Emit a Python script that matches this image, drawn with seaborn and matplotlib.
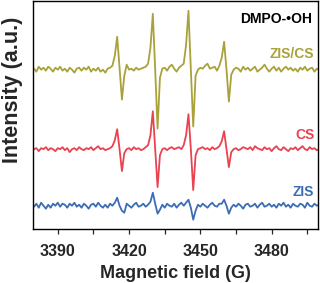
import numpy as np
import pandas as pd
import matplotlib
matplotlib.use("Agg")
import matplotlib.pyplot as plt
import seaborn as sns
from matplotlib.ticker import MultipleLocator

# ---- data (intensity in arbitrary units) ----
field = list(range(3380, 3501))  # Magnetic field (G)

zis_cs = [
    1, -2, 3, 0, 2, -1, 3, 1, -2, 2,
    0, 3, -1, 1, -2, 2, 0, -3, 1, 2,
    -1, 2, 0, 3, -2, 1, -1, 2, -2, 0,
    -3, 1, 2, 4, 14, 33, 2, -30, -6, 5,
    0, 1, -1, 2, 0, 1, 2, 3, 6, 22,
    56, 0, -59, -8, 1, 2, -1, 3, 5, 1,
    -2, 2, 4, 6, 25, 59, 0, -57, -6, 0,
    2, 1, 4, 6, 1, 2, 3, -1, 4, 12,
    28, 0, -32, -5, 0, 2, 1, -2, 3, 0,
    2, -1, 1, 3, -2, 0, 2, 5, 1, -2,
    1, 3, -1, 2, -2, 1, 3, 0, 2, -1,
    1, -2, 2, 0, 3, -1, 1, 2, -2, 1,
    0,
]

cs = [
    0, 1, -2, 1, 0, 2, -1, 1, 0, -2,
    1, 0, 2, -1, 1, -3, 0, 1, -1, 2,
    0, -1, 1, 0, 2, -1, 1, 3, 0, 1,
    -1, 0, 1, 3, 9, 20, 0, -22, -4, 0,
    1, -1, 2, 0, 1, -1, 0, 2, 4, 14,
    38, 0, -38, -6, 0, 1, -1, 1, 2, 0,
    1, 2, 0, 4, 14, 35, 0, -41, -6, 0,
    1, 2, 0, 1, -1, 2, 0, 1, 3, 8,
    18, 0, -18, -3, 0, 1, -1, 0, 2, 1,
    0, 2, -1, 3, 1, 0, -1, 2, 0, 1,
    -2, 1, 3, 0, -1, 2, 0, -2, 1, 0,
    2, -1, 1, 3, 0, -1, 2, 0, 1, -1,
    0,
]

zis = [
    -1, 2, -2, 3, 0, -3, 1, -2, 2, 0,
    3, -1, 2, 1, -2, 2, 0, 3, -1, 1,
    -2, 2, 0, -3, 1, 2, -1, 3, 0, -2,
    1, -2, 2, 0, 3, 8, 0, -5, -7, 2,
    0, -2, 1, 3, -1, 0, 2, -1, 1, 4,
    13, 2, -8, -4, 1, -2, 2, 0, -1, 2,
    -2, 1, 3, 0, 3, 6, -2, -14, -5, 1,
    -1, 2, 0, -2, 1, 3, 0, -1, 2, 2,
    6, 0, -8, -2, 1, -1, 2, 0, -3, 1,
    2, -1, 0, 2, -2, 1, 3, -1, 0, 2,
    -1, 1, -2, 2, 0, 3, -1, 1, -2, 2,
    0, -1, 2, 1, -2, 3, 0, -1, 2, 0,
    1,
]

series_names = ["ZIS/CS", "CS", "ZIS"]
series_values = [zis_cs, cs, zis]
x_ticks = [3390, 3420, 3450, 3480]

# ---- styles / layout ----
colors = {"ZIS/CS": "#A9A23A", "CS": "#E8434F", "ZIS": "#3A6DB5"}
offsets = {"ZIS/CS": 159.7, "CS": 80.0, "ZIS": 23.3}
label_y = {"ZIS/CS": 175.7, "CS": 94.0, "ZIS": 37.3}

rows = []
for name, vals in zip(series_names, series_values):
    for f, v in zip(field, vals):
        rows.append({"field": f, "intensity": v + offsets[name], "sample": name})
df = pd.DataFrame(rows)

sns.set_theme(style="ticks")
plt.rcParams["font.family"] = ["Liberation Sans", "DejaVu Sans"]

fig = plt.figure(figsize=(3.2, 2.83), dpi=100)
ax = fig.add_axes([0.104, 0.191, 0.889, 0.807])

for name in series_names:
    sns.lineplot(data=df[df["sample"] == name], x="field", y="intensity",
                 color=colors[name], linewidth=1.3, ax=ax, legend=False)
    ax.text(3498, label_y[name], name, color=colors[name], fontsize=10,
            fontweight="bold", ha="right", va="center")

ax.text(0.98, 0.92, "DMPO-\u2022OH", transform=ax.transAxes, fontsize=10,
        fontweight="bold", color="black", ha="right", va="center")

ax.set_xlim(3379.7, 3499.4)
ax.set_ylim(0, 229)
ax.set_xticks(x_ticks)
ax.xaxis.set_minor_locator(MultipleLocator(15))
ax.set_yticks([])
ax.tick_params(axis="x", which="major", direction="out", length=3.5, width=0.9,
               labelsize=11.5, pad=7)
ax.tick_params(axis="x", which="minor", direction="out", length=3.5, width=0.9)
for lbl in ax.get_xticklabels():
    lbl.set_fontweight("bold")
for s in ax.spines.values():
    s.set_linewidth(1.0)
    s.set_color("black")

ax.set_xlabel("Magnetic field (G)", fontsize=13, fontweight="bold", labelpad=5)
ax.set_ylabel("Intensity (a.u.)", fontsize=15.5, fontweight="bold")
ax.yaxis.set_label_coords(-0.035, 0.61)

fig.savefig("out.png", dpi=100)
